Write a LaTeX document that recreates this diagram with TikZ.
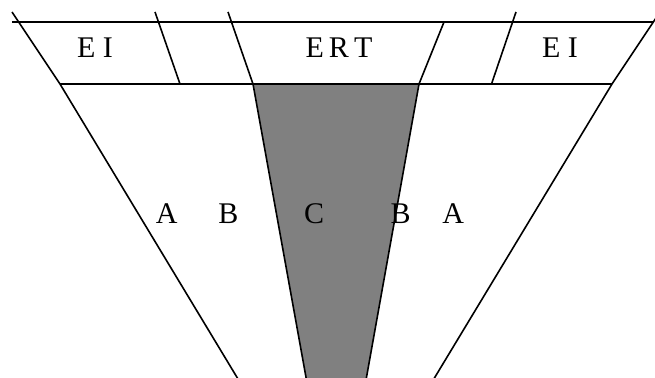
\documentclass[tikz,border=0pt]{standalone}
\usepackage{fontspec}
\setmainfont{Liberation Serif}
\definecolor{midgray}{HTML}{808080}
\begin{document}
\begin{tikzpicture}[x=1pt,y=-1pt,line width=1.6pt,
  lbl/.style={font=\fontsize{30}{32}\selectfont, anchor=base, inner sep=0pt}]
\useasboundingbox (0,0) rectangle (655,377);
% shaded core
\fill[midgray] (253,84) -- (419,84) -- (366,380) -- (306.5,380) -- cycle;
% horizontal lines
\draw (12,22) -- (653,22);
\draw (60,84) -- (612,84);
% outer lines
\draw (12,12) -- (60,84) -- (238.6,380);
\draw (660,12) -- (612,84) -- (433.2,380);
% inner lines
\draw (155,12) -- (180,84);
\draw (228,12) -- (253,84) -- (306.5,380);
\draw (444,22) -- (419,84) -- (366,380);
\draw (516,12) -- (491.5,84);
% labels
\node[lbl] (ei1) at (95,57.5) {E I};
\node[lbl] (ert) at (339,57.5) {E\hspace{0.17em}R\hspace{0.17em}T};
\node[lbl] (ei2) at (560,57.5) {E I};
\node[lbl] (a1) at (166.7,223) {A};
\node[lbl] (b1) at (228.5,223) {B};
\node[lbl] (c) at (314,223) {C};
\node[lbl] (b2) at (400.5,223) {B};
\node[lbl] (a2) at (453.3,223) {A};
\end{tikzpicture}
\end{document}
